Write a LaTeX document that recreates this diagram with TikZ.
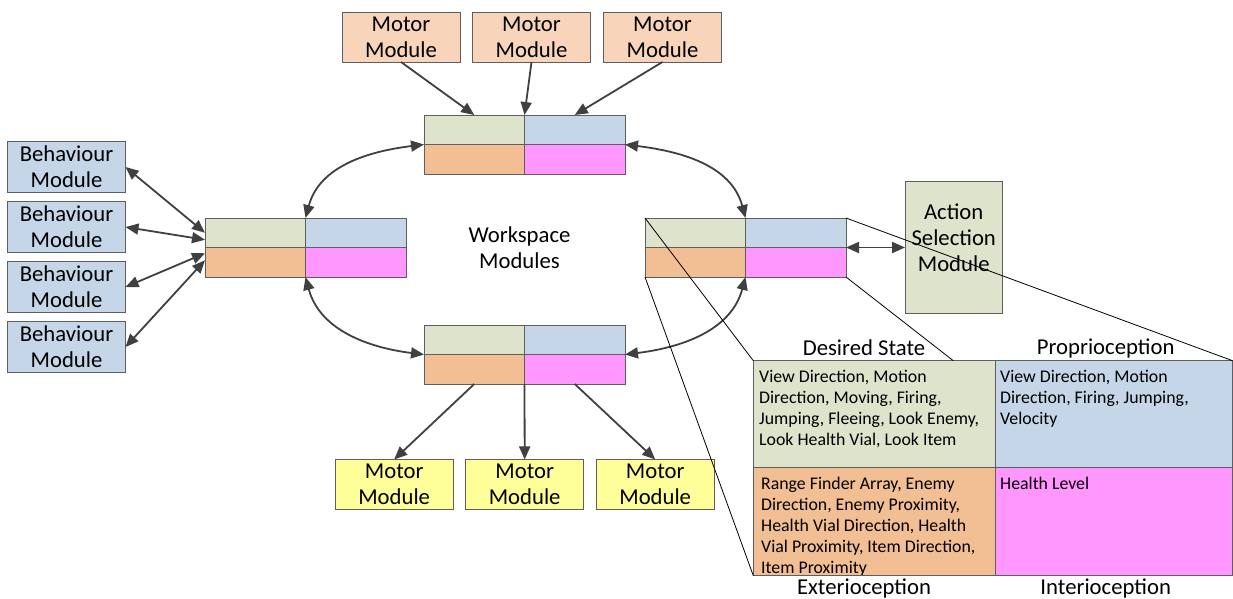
\documentclass[tikz,border=0pt]{standalone}
\usepackage{fontspec}
\setmainfont{Carlito}
\usetikzlibrary{arrows.meta,calc}
\definecolor{cgreen}{HTML}{DEE3CC}
\definecolor{cblue}{HTML}{C4D6E7}
\definecolor{corange}{HTML}{F2BE94}
\definecolor{cpink}{HTML}{FF97FF}
\definecolor{cpeach}{HTML}{F8D5BA}
\definecolor{cyellow}{HTML}{FFFF99}
\definecolor{edgegrey}{HTML}{5E5E5E}
\definecolor{arrowgrey}{HTML}{404040}
% one workspace module: four coloured cells, named #1-g, #1-b, #1-o, #1-p
\newcommand\wsblock[3]{%
  \node[cell, fill=cgreen, anchor=north west] (#1-g) at (#2,#3) {};
  \node[cell, fill=cblue, anchor=north west] (#1-b) at (#1-g.north east) {};
  \node[cell, fill=corange, anchor=north west] (#1-o) at (#1-g.south west) {};
  \node[cell, fill=cpink, anchor=north west] (#1-p) at (#1-o.north east) {};}
\begin{document}
\begin{tikzpicture}[x=1pt,y=-1pt,
  bigfont/.style={font=\fontsize{22.7}{26}\selectfont},
  box/.style={draw=edgegrey, line width=1pt, inner sep=0pt, outer sep=0pt, align=center, bigfont},
  motorin/.style={box, fill=cpeach, minimum width=118pt, minimum height=50pt},
  motorout/.style={box, fill=cyellow, minimum width=118pt, minimum height=50.5pt},
  behav/.style={box, fill=cblue, minimum width=118pt, minimum height=50.5pt},
  cell/.style={draw=edgegrey, line width=1pt, minimum width=100.5pt, minimum height=29.5pt,
    inner sep=0pt, outer sep=0pt},
  tcell/.style={draw=edgegrey, line width=1pt, inner sep=0pt, outer sep=0pt, anchor=north west},
  ttext/.style={anchor=north west, inner sep=0pt, align=left, font=\fontsize{17.8}{21.1}\selectfont},
  thead/.style={inner sep=0pt, bigfont},
  tip/.tip={Triangle[length=13pt,width=11pt]},
  link/.style={draw=arrowgrey, line width=1.8pt, -tip},
  dlink/.style={draw=arrowgrey, line width=1.8pt, tip-tip},
  zoomline/.style={draw=black, line width=0.8pt}]
\useasboundingbox (0,0) rectangle (1233,598);

% workspace modules
\wsblock{top}{424}{115}
\wsblock{lw}{205}{218}
\wsblock{rw}{645}{218}
\wsblock{bot}{424}{325}
\node[align=center, bigfont] (wslabel) at (519.5,248) {Workspace\\Modules};

% motor modules feeding the top workspace
\node[motorin] (mi1) at (401,37) {Motor\\Module};
\node[motorin] (mi2) at (531.5,37) {Motor\\Module};
\node[motorin] (mi3) at (662.5,37) {Motor\\Module};
\draw[link] (mi1.south) -- (top-g.north);
\draw[link] (mi2.south) -- (top-g.north east);
\draw[link] (mi3.south) -- (top-b.north);

% motor modules fed by the bottom workspace
\node[motorout] (mo1) at (394.2,484.7) {Motor\\Module};
\node[motorout] (mo2) at (524.7,484.7) {Motor\\Module};
\node[motorout] (mo3) at (655.2,484.7) {Motor\\Module};
\draw[link] (bot-o.south) -- (mo1.north);
\draw[link] (bot-o.south east) -- (mo2.north);
\draw[link] (bot-p.south) -- (mo3.north);

% behaviour modules
\node[behav] (bh1) at (66.5,167) {Behaviour\\Module};
\node[behav] (bh2) at (66.5,227) {Behaviour\\Module};
\node[behav] (bh3) at (66.5,287) {Behaviour\\Module};
\node[behav] (bh4) at (66.5,347) {Behaviour\\Module};
\draw[dlink] (bh1.east) -- (lw-g.west);
\draw[dlink] (bh2.east) -- ([yshift=-7pt]lw-g.west);
\draw[dlink] (bh3.east) -- ([yshift=9pt]lw-o.west);
\draw[dlink] (bh4.east) -- ([yshift=2pt]lw-o.west);

% exchange between workspace modules
\draw[dlink] (lw-g.north east) to[out=75,in=187] (top-g.south west);
\draw[dlink] (top-b.south east) to[out=-7,in=105] (rw-g.north east);
\draw[dlink] (lw-o.south east) to[out=-75,in=173] (bot-o.north west);
\draw[dlink] (rw-o.south east) to[out=-105,in=7] (bot-p.north east);

% action selection
\node[box, fill=cgreen, minimum width=97.3pt, minimum height=132.3pt] (asm) at (953.7,247.2) {};
\node[align=center, bigfont] (asmlabel) at (953.7,238) {Action\\Selection\\Module};
\draw[dlink] (rw-b.south east) -- (asm.west |- rw-b.south east);

% expanded view of one workspace module
\node[tcell, fill=cgreen, minimum width=242pt, minimum height=107pt] (tl) at (753.3,360.7) {};
\node[tcell, fill=cblue, minimum width=237.2pt, minimum height=107pt] (tr) at (tl.north east) {};
\node[tcell, fill=corange, minimum width=242pt, minimum height=108pt] (bl) at (tl.south west) {};
\node[tcell, fill=cpink, minimum width=237.2pt, minimum height=108pt] (br) at (bl.north east) {};

\node[ttext] (tltext) at (759,370) {View Direction, Motion\\Direction, Moving, Firing,\\Jumping, Fleeing, Look Enemy,\\Look Health Vial, Look Item};
\node[ttext] (trtext) at (1000,370) {View Direction, Motion\\Direction, Firing, Jumping,\\Velocity};
\node[ttext] (bltext) at (761,477) {Range Finder Array, Enemy\\Direction, Enemy Proximity,\\Health Vial Direction, Health\\Vial Proximity, Item Direction,\\Item Proximity};
\node[ttext] (brtext) at (1000,477) {Health Level};
\draw[edgegrey, line width=1pt] (bl.south west) -- (br.south east);

\node[thead] (hds) at (864,348) {Desired State};
\node[thead] (hpr) at (1105.7,348) {Proprioception};
\node[thead, anchor=base] (hex) at (864,594) {Exterioception};
\node[thead, anchor=base] (hin) at (1105.7,594) {Interioception};

% projection lines from the workspace module to its expanded view
\coordinate (dsend) at (953.3,360.7);
\draw[zoomline] (rw-g.north west) -- (tl.north west);
\draw[zoomline] (rw-o.south west) -- (bl.south west);
\draw[zoomline] (rw-p.south east) -- (dsend);
\draw[zoomline] (rw-b.north east) -- (tr.north east);
\end{tikzpicture}
\end{document}
